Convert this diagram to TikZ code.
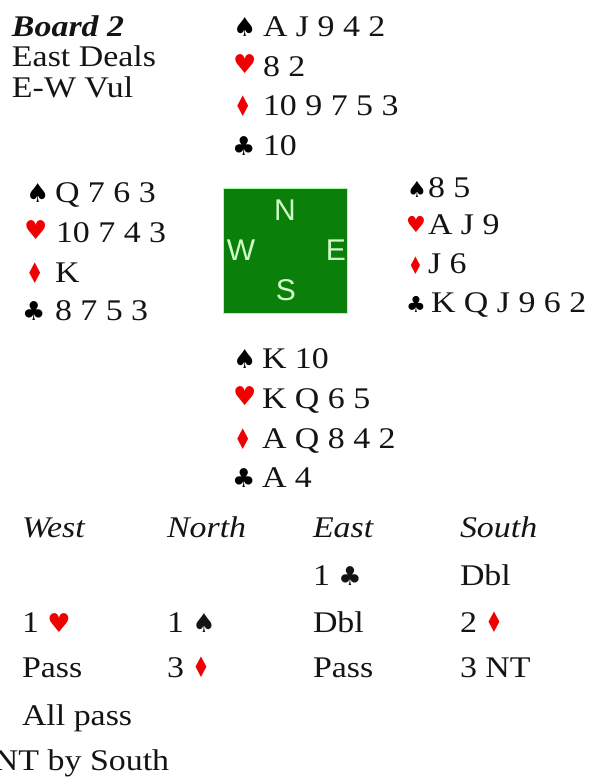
\documentclass[tikz,border=0pt]{standalone}
\usepackage{fontspec}
\usepackage{graphicx}
\setmainfont{Liberation Serif}[FakeStretch=1.13]
\newfontfamily\suitfont{DejaVu Sans}
\newfontfamily\compassfont{Liberation Sans}
\definecolor{suitred}{RGB}{240,0,0}
\definecolor{boardgreen}{RGB}{10,128,10}
\definecolor{compasstext}{RGB}{210,250,200}
\newcommand\suitS{{\suitfont\fontsize{26}{26}\selectfont ♠}}
\newcommand\suitH{{\color{suitred}\suitfont\fontsize{26}{26}\selectfont ♥}}
\newcommand\suitD{{\color{suitred}\suitfont\fontsize{27}{27}\selectfont\scalebox{0.72}[1.05]{♦}}}
\newcommand\suitC{{\suitfont\fontsize{26}{26}\selectfont ♣}}
\tikzset{
  txt/.style={anchor=base west, inner sep=0pt, outer sep=0pt, font=\fontsize{30}{36}\selectfont, text=black!92},
  sym/.style={anchor=base west, inner sep=0pt, outer sep=0pt},
  esym/.style={anchor=base west, inner sep=0pt, outer sep=0pt, scale=0.85},
  compass/.style={inner sep=0pt, text=compasstext, font=\compassfont\fontsize{30}{30}\selectfont}
}
\begin{document}
\begin{tikzpicture}[x=1pt,y=-1pt]
\useasboundingbox (0,0) rectangle (599,779);
\clip (0,0) rectangle (599,779);
% header
\node[txt, font=\fontsize{30}{36}\selectfont\bfseries\itshape] (board) at (12,36) {Board 2};
\node[txt] (dealer) at (12,66) {East Deals};
\node[txt] (vul) at (12,97) {E-W Vul};
% North
\node[sym] (nS) at (233,36) {\suitS};
\node[txt] (nSc) at (263,36) {A J 9 4 2};
\node[sym] (nH) at (233,73) {\suitH};
\node[txt] (nHc) at (263,76) {8 2};
\node[sym] (nD) at (234,116) {\suitD};
\node[txt] (nDc) at (263,115) {10 9 7 5 3};
\node[sym] (nC) at (232,155) {\suitC};
\node[txt] (nCc) at (263,155) {10};
% West
\node[sym] (wS) at (26,202) {\suitS};
\node[txt] (wSc) at (55,202) {Q 7 6 3};
\node[sym] (wH) at (24,239) {\suitH};
\node[txt] (wHc) at (56,242) {10 7 4 3};
\node[sym] (wD) at (26,283) {\suitD};
\node[txt] (wDc) at (55,282) {K};
\node[sym] (wC) at (22,320) {\suitC};
\node[txt] (wCc) at (55,320) {8 7 5 3};
% East
\node[esym] (eS) at (407,197) {\suitS};
\node[txt] (eSc) at (428,197) {8 5};
\node[esym] (eH) at (406,232) {\suitH};
\node[txt] (eHc) at (428,234) {A J 9};
\node[esym] (eD) at (408,274) {\suitD};
\node[txt] (eDc) at (428,273) {J 6};
\node[esym] (eC) at (406,312) {\suitC};
\node[txt] (eCc) at (431,312) {K Q J 9 6 2};
% board
\node[fill=boardgreen, draw=green!35!white, line width=0.8pt, minimum width=124pt, minimum height=125pt, inner sep=0pt] (table) at (285,250.5) {};
\node[compass] (N) at (285,210) {N};
\node[compass] (W) at (241,250) {W};
\node[compass] (E) at (336,250) {E};
\node[compass] (S) at (286,290) {S};
% South
\node[sym] (sS) at (233,368) {\suitS};
\node[txt] (sSc) at (262,368) {K 10};
\node[sym] (sH) at (233,405) {\suitH};
\node[txt] (sHc) at (262,408) {K Q 6 5};
\node[sym] (sD) at (234,449) {\suitD};
\node[txt] (sDc) at (262,448) {A Q 8 4 2};
\node[sym] (sC) at (232,487) {\suitC};
\node[txt] (sCc) at (262,487) {A 4};
% auction
\node[txt, font=\fontsize{30}{36}\selectfont\itshape] (hW) at (22,537) {West};
\node[txt, font=\fontsize{30}{36}\selectfont\itshape] (hN) at (167,537) {North};
\node[txt, font=\fontsize{30}{36}\selectfont\itshape] (hE) at (313,537) {East};
\node[txt, font=\fontsize{30}{36}\selectfont\itshape] (hS) at (460,537) {South};
\node[txt] (b1E) at (313,585) {1 \suitC};
\node[txt] (b1S) at (460,585) {Dbl};
\node[txt] (b2W) at (22,632) {1 \suitH};
\node[txt] (b2N) at (167,632) {1 \suitS};
\node[txt] (b2E) at (313,632) {Dbl};
\node[txt] (b2S) at (460,632) {2 \suitD};
\node[txt] (b3W) at (22,677) {Pass};
\node[txt] (b3N) at (167,677) {3 \suitD};
\node[txt] (b3E) at (313,677) {Pass};
\node[txt] (b3S) at (460,677) {3 NT};
\node[txt] (b4W) at (22,725) {All pass};
\node[txt] (contract) at (-6,770) {NT by South};
\end{tikzpicture}
\end{document}
